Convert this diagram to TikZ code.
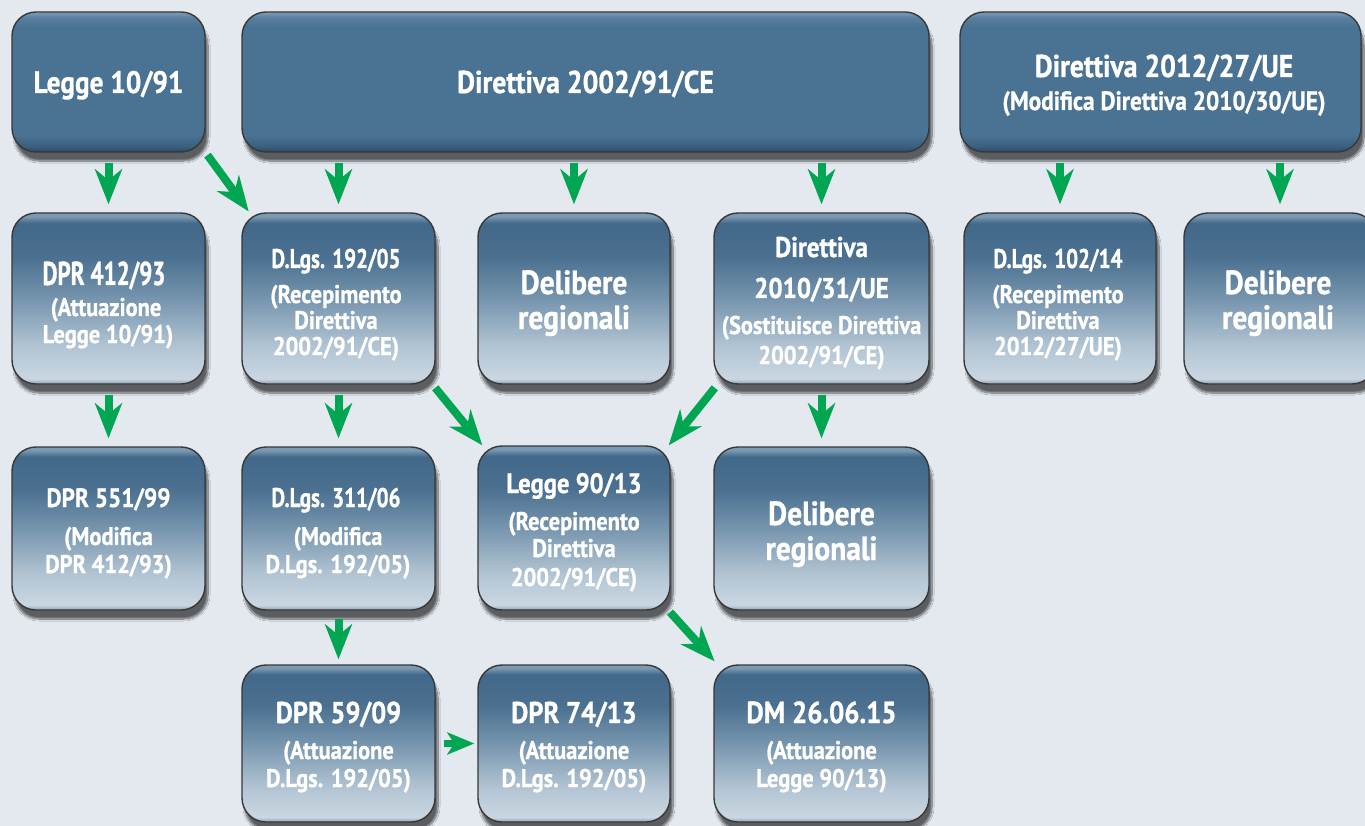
\documentclass[tikz,border=0pt]{standalone}
\usepackage{fontspec}
\setmainfont{PT Sans}[FakeStretch=0.88,FakeBold=0.9]
\newfontfamily\condf{PT Sans}[FakeStretch=0.78,FakeBold=0.9]
\newfontfamily\condxf{PT Sans}[FakeStretch=0.7,FakeBold=1.0]
\usetikzlibrary{arrows.meta,shadows.blur}
\definecolor{bg}{HTML}{E4E9F0}
\definecolor{arrgreen}{HTML}{00A651}
\definecolor{ga}{HTML}{8A9EAF}
\definecolor{gb}{HTML}{CAD7E2}
\definecolor{gc}{HTML}{B2C4D3}
\definecolor{gd}{HTML}{7695AE}
\definecolor{ge}{HTML}{4B7090}
\definecolor{gf}{HTML}{42688A}
\definecolor{gg}{HTML}{7C9AB3}
\definecolor{sa}{HTML}{2A4762}
\definecolor{sb}{HTML}{3A5F7F}
\definecolor{sc}{HTML}{4A7292}
\definecolor{sd}{HTML}{5A80A0}
\definecolor{se}{HTML}{7F9DB6}
\pgfdeclareverticalshading{gradshade}{100bp}{color(0bp)=(ga); color(25bp)=(ga); color(26.5bp)=(gb); color(36bp)=(gc); color(50bp)=(gd); color(62bp)=(ge); color(72bp)=(gf); color(74bp)=(gg); color(75bp)=(gg); color(100bp)=(gg)}
\pgfdeclareverticalshading{solidshade}{100bp}{color(0bp)=(sa); color(25bp)=(sa); color(27bp)=(sb); color(31bp)=(sc); color(70bp)=(sc); color(73bp)=(sd); color(75bp)=(se); color(100bp)=(se)}
\tikzset{
  basebox/.style={rectangle, rounded corners=24pt, draw=black!78, line width=1.4pt, inner sep=0pt,
    blur shadow={shadow xshift=3pt, shadow yshift=-9pt, shadow opacity=60, shadow blur steps=10}},
  solidbox/.style={basebox, shading=solidshade},
  gradbox/.style={basebox, shading=gradshade},
  tx/.style={text=white, anchor=base, inner sep=0pt, font=\fontsize{#1}{#1}\selectfont\bfseries},
  tc/.style={text=white, anchor=base, inner sep=0pt, font=\condf\fontsize{#1}{#1}\selectfont\bfseries},
  tcx/.style={text=white, anchor=base, inner sep=0pt, font=\condxf\fontsize{#1}{#1}\selectfont\bfseries},
  upper/.style={text depth=1pt},
  lower/.style={text height=20pt},
  garrow/.style={draw=arrgreen, line width=8pt, -{Stealth[length=35pt,width=27pt,inset=11pt]}},
  harrow/.style={draw=arrgreen, line width=7pt, -{Stealth[length=27pt,width=22pt,inset=7pt]}},
}
\begin{document}
\begin{tikzpicture}[x=1pt,y=-1pt]
\useasboundingbox (0,0) rectangle (1365,826);
\fill[bg] (0,0) rectangle (1365,826);
% ---------- boxes ----------
\node[solidbox, minimum width=193pt, minimum height=140pt] (L1091) at (108.5,82) {};
\node[solidbox, minimum width=687pt, minimum height=140pt] (D2002) at (585.5,82) {};
\node[solidbox, minimum width=401pt, minimum height=140pt] (D2012) at (1160.5,82) {};
\node[gradbox, minimum width=193pt, minimum height=171pt] (DPR412) at (108.5,298.5) {};
\node[gradbox, minimum width=193pt, minimum height=171pt] (DL192) at (338.5,298.5) {};
\node[gradbox, minimum width=192pt, minimum height=171pt] (Del1) at (574,298.5) {};
\node[gradbox, minimum width=215pt, minimum height=171pt] (D2010) at (821.5,298.5) {};
\node[gradbox, minimum width=192pt, minimum height=171pt] (DL102) at (1060,298.5) {};
\node[gradbox, minimum width=192pt, minimum height=171pt] (Del2) at (1280,298.5) {};
\node[gradbox, minimum width=193pt, minimum height=163pt] (DPR551) at (108.5,528.5) {};
\node[gradbox, minimum width=193pt, minimum height=163pt] (DL311) at (338.5,528.5) {};
\node[gradbox, minimum width=192pt, minimum height=164pt] (L9013) at (574,528) {};
\node[gradbox, minimum width=215pt, minimum height=163pt] (Del3) at (821.5,528.5) {};
\node[gradbox, minimum width=193pt, minimum height=157pt] (DPR59) at (338.5,743.5) {};
\node[gradbox, minimum width=192pt, minimum height=157pt] (DPR74) at (574,743.5) {};
\node[gradbox, minimum width=215pt, minimum height=157pt] (DM) at (821.5,743.5) {};
% ---------- texts ----------
\node[tx=31] (L1091a) at (108.5,93) {Legge 10/91};
\node[tx=31.5] (D2002a) at (585.5,93) {Direttiva 2002/91/CE};
\node[tx=31.5, upper] (D2012a) at (1164,77) {Direttiva 2012/27/UE};
\node[tx=26.5, lower] (D2012b) at (1164,110) {(Modifica Direttiva 2010/30/UE)};
\node[tcx=33, upper] (DPR412a) at (104,285) {DPR 412/93};
\node[tx=25.5, upper] (DPR412b) at (106,316) {(Attuazione};
\node[tx=25.5, lower] (DPR412c) at (108,343) {Legge 10/91)};
\node[tc=27, upper] (DL192a) at (336,268) {D.Lgs. 192/05};
\node[tx=25.5, upper] (DL192b) at (336,303) {(Recepimento};
\node[tx=25.5, upper, lower] (DL192c) at (336,329) {Direttiva};
\node[tx=25.5, lower] (DL192d) at (336,355) {2002/91/CE)};
\node[tx=33.5, upper] (Del1a) at (574,294) {Delibere};
\node[tx=33.5, lower] (Del1b) at (574,329) {regionali};
\node[tx=28.5, upper] (D2010a) at (821.5,257) {Direttiva};
\node[tx=28.5, upper, lower] (D2010b) at (821.5,298) {2010/31/UE};
\node[tx=25.5, upper, lower] (D2010c) at (821.5,334) {(Sostituisce Direttiva};
\node[tx=25.5, lower] (D2010d) at (821.5,364) {2002/91/CE)};
\node[tc=27, upper] (DL102a) at (1058,268) {D.Lgs. 102/14};
\node[tx=25.5, upper] (DL102b) at (1058,303) {(Recepimento};
\node[tx=25.5, upper, lower] (DL102c) at (1058,329) {Direttiva};
\node[tx=25.5, lower] (DL102d) at (1058,355) {2012/27/UE)};
\node[tx=33.5, upper] (Del2a) at (1278,294) {Delibere};
\node[tx=33.5, lower] (Del2b) at (1278,329) {regionali};
\node[tx=26.5, upper] (DPR551a) at (108.5,507) {DPR 551/99};
\node[tx=25.5, upper] (DPR551b) at (108.5,545) {(Modifica};
\node[tx=25.5, lower] (DPR551c) at (108.5,573) {DPR 412/93)};
\node[tc=27, upper] (DL311a) at (336,507) {D.Lgs. 311/06};
\node[tx=25.5, upper] (DL311b) at (338,545) {(Modifica};
\node[tx=25.5, lower] (DL311c) at (338,573) {D.Lgs. 192/05)};
\node[tx=28, upper] (L9013a) at (574,493) {Legge 90/13};
\node[tx=25.5, upper] (L9013b) at (574,530) {(Recepimento};
\node[tx=25.5, upper, lower] (L9013c) at (574,557) {Direttiva};
\node[tx=25.5, lower] (L9013d) at (574,586) {2002/91/CE)};
\node[tx=33.5, upper] (Del3a) at (821.5,525) {Delibere};
\node[tx=33.5, lower] (Del3b) at (821.5,560) {regionali};
\node[tx=30, upper] (DPR59a) at (338.5,723) {DPR 59/09};
\node[tx=25.5, upper] (DPR59b) at (338.5,759) {(Attuazione};
\node[tx=25.5, lower] (DPR59c) at (338.5,787) {D.Lgs. 192/05)};
\node[tx=30, upper] (DPR74a) at (574,723) {DPR 74/13};
\node[tx=25.5, upper] (DPR74b) at (574,759) {(Attuazione};
\node[tx=25.5, lower] (DPR74c) at (574,787) {D.Lgs. 192/05)};
\node[tx=30.5, upper] (DMa) at (821.5,723) {DM 26.06.15};
\node[tx=25.5, upper] (DMb) at (821.5,759) {(Attuazione};
\node[tx=25.5, lower] (DMc) at (821.5,787) {Legge 90/13)};
% ---------- arrows ----------
\draw[garrow, shorten <=10pt, shorten >=8pt] (L1091.south) -- (DPR412.north);
\draw[garrow, shorten <=3pt, shorten >=1pt] (L1091.south east) -- ([xshift=8pt]DL192.north west);
\draw[garrow, shorten <=10pt, shorten >=8pt] (D2002.south -| DL192.north) -- (DL192.north);
\draw[garrow, shorten <=10pt, shorten >=8pt] (D2002.south -| Del1.north) -- (Del1.north);
\draw[garrow, shorten <=10pt, shorten >=8pt] (D2002.south -| D2010.north) -- (D2010.north);
\draw[garrow, shorten <=10pt, shorten >=8pt] (D2012.south -| DL102.north) -- (DL102.north);
\draw[garrow, shorten <=10pt, shorten >=8pt] (D2012.south -| Del2.north) -- (Del2.north);
\draw[garrow, shorten <=10pt, shorten >=8pt] (DPR412.south) -- (DPR551.north);
\draw[garrow, shorten <=10pt, shorten >=8pt] (DL192.south) -- (DL311.north);
\draw[garrow, shorten <=4pt, shorten >=0pt] ([xshift=-3pt]DL192.south east) -- ([xshift=5pt]L9013.north west);
\draw[garrow, shorten <=4pt, shorten >=0pt] ([xshift=4pt]D2010.south west) -- ([xshift=-2pt]L9013.north east);
\draw[garrow, shorten <=10pt, shorten >=8pt] (D2010.south) -- (Del3.north);
\draw[garrow, shorten <=8pt, shorten >=5pt] (DL311.south) -- (DPR59.north);
\draw[garrow, shorten <=2pt, shorten >=4pt] ([xshift=-2pt]L9013.south east) -- ([xshift=4pt]DM.north west);
\draw[harrow, shorten <=8pt, shorten >=3pt] (DPR59.east) -- (DPR74.west);
\end{tikzpicture}
\end{document}
